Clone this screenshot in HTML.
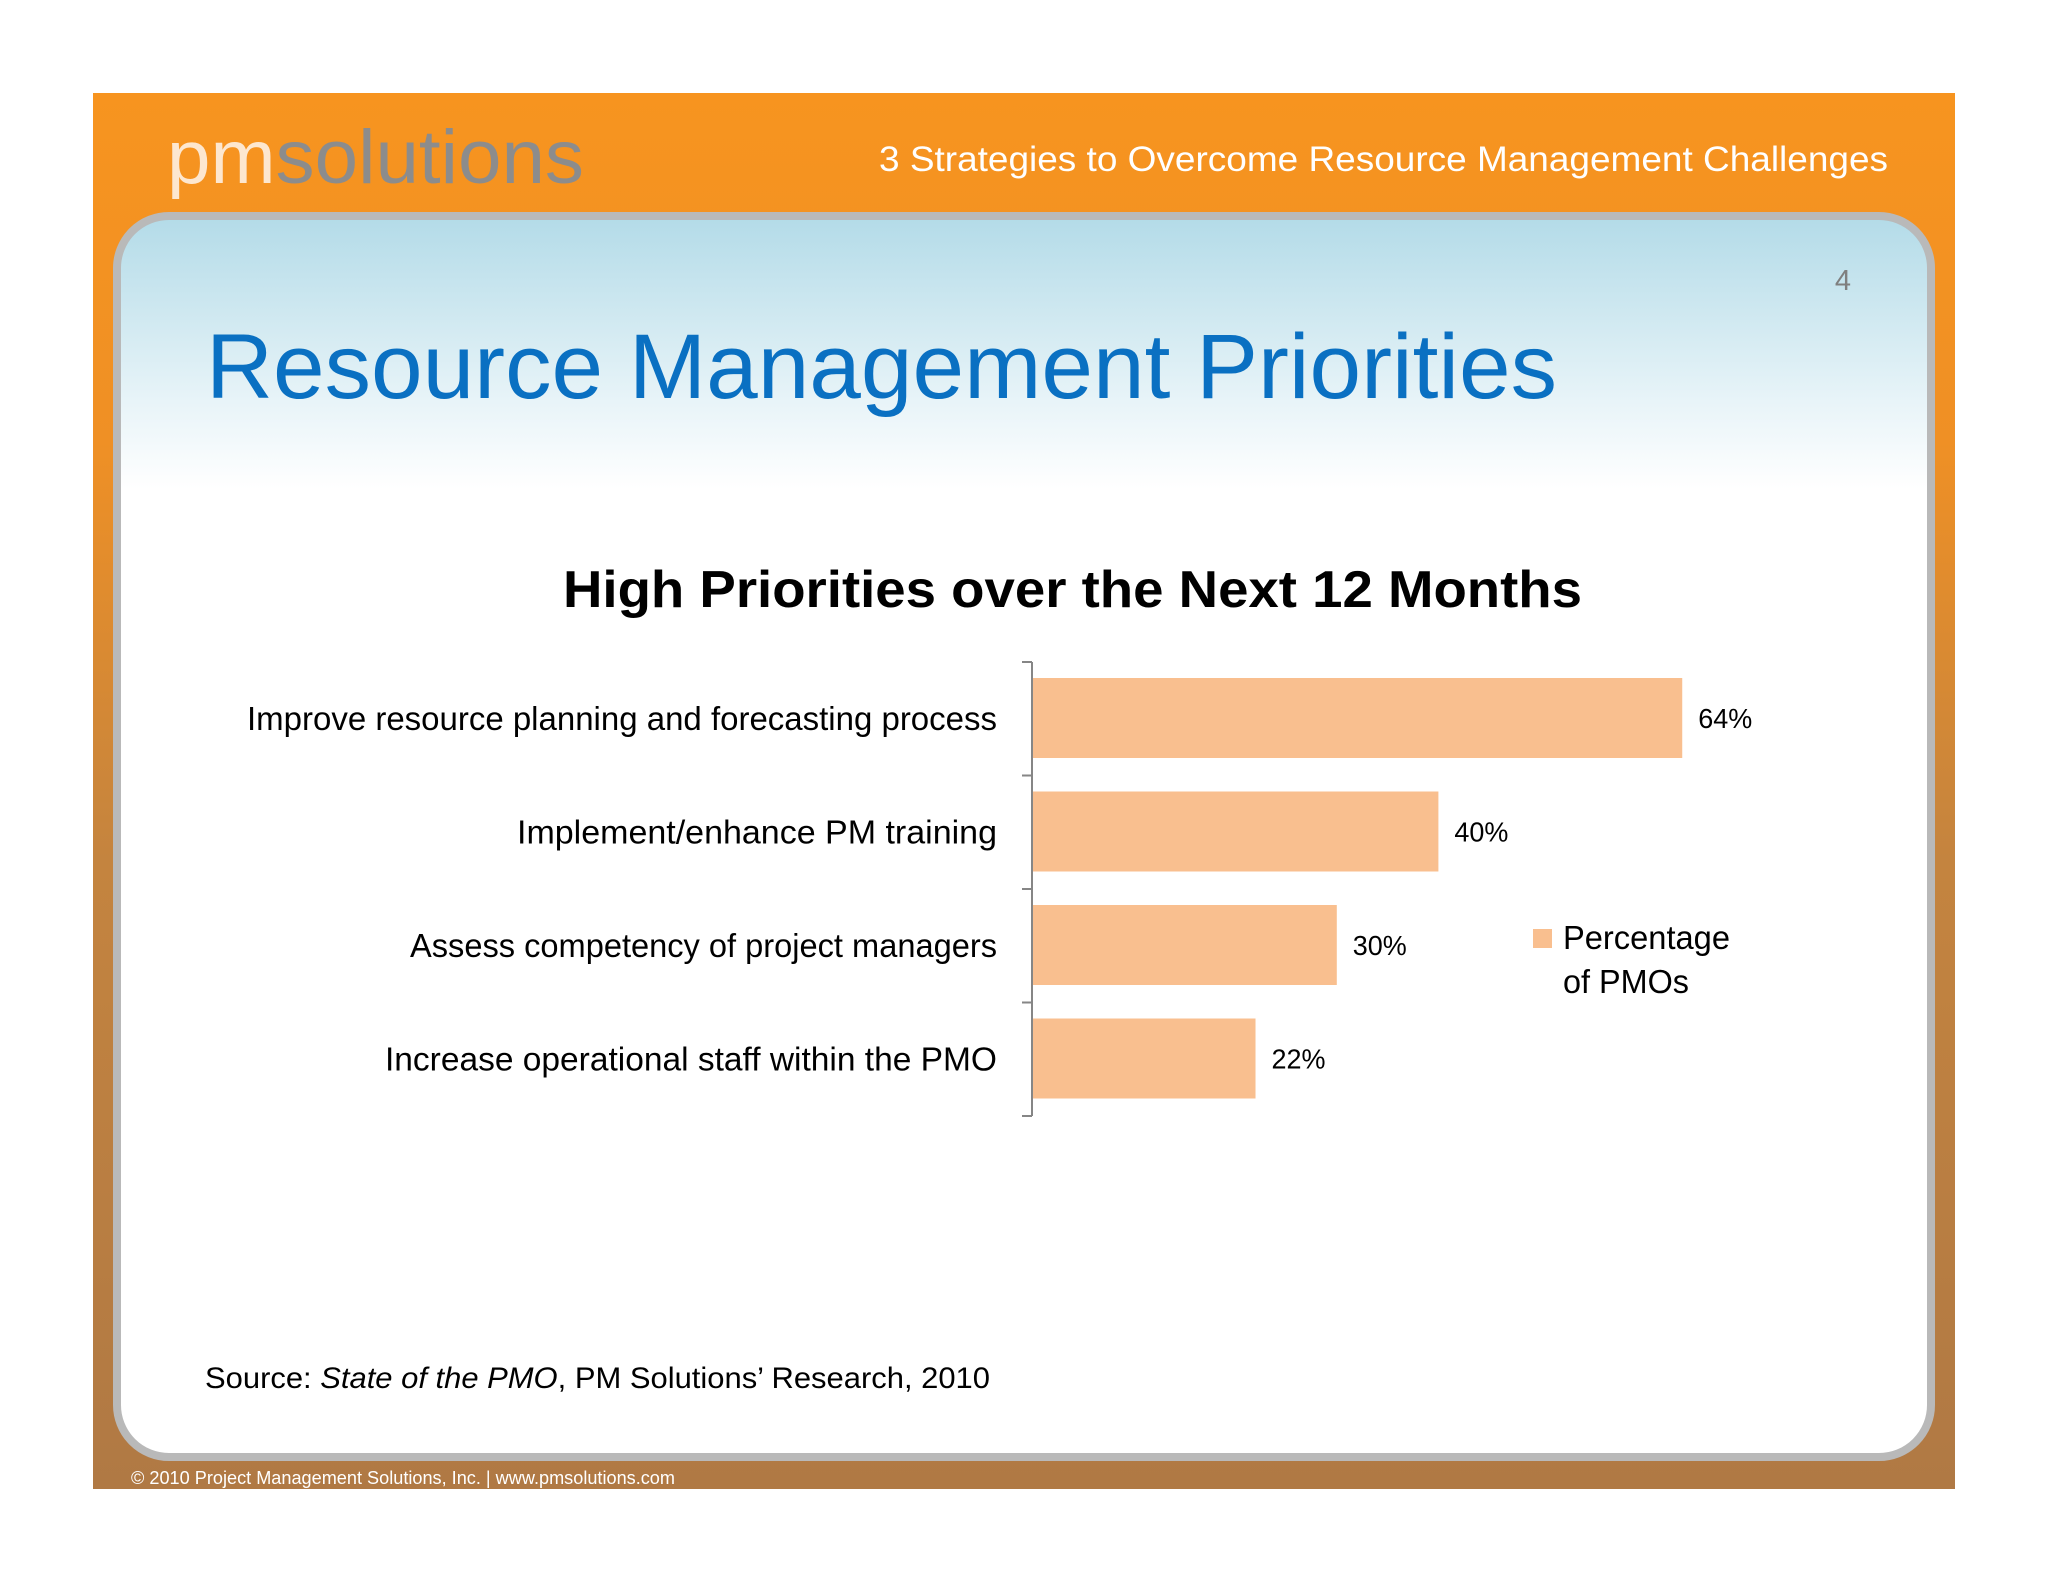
<!DOCTYPE html>
<html><head><meta charset="utf-8"><style>
html,body{margin:0;padding:0;background:#fff;}
svg{display:block;font-family:"Liberation Sans",sans-serif;}
</style></head><body>
<svg width="2048" height="1582" viewBox="0 0 2048 1582">
<defs>
<linearGradient id="og" x1="0" y1="0" x2="0" y2="1">
<stop offset="0" stop-color="#f7941f"/><stop offset="0.25" stop-color="#ef9025"/><stop offset="0.55" stop-color="#c4843f"/><stop offset="1" stop-color="#b07944"/>
</linearGradient>
<linearGradient id="pg" x1="0" y1="0" x2="0" y2="1">
<stop offset="0" stop-color="#b3dbe8"/><stop offset="0.15" stop-color="#e8f4f8"/><stop offset="0.22" stop-color="#ffffff"/><stop offset="1" stop-color="#ffffff"/>
</linearGradient>
</defs>
<rect x="93" y="93" width="1862" height="1396" fill="url(#og)"/>
<text x="167" y="183" font-size="76" textLength="417" lengthAdjust="spacingAndGlyphs"><tspan fill="#fde7cf">pm</tspan><tspan fill="#8c8c8c">solutions</tspan></text>
<text x="1888" y="171" text-anchor="end" font-size="35" fill="#ffffff" textLength="1009" lengthAdjust="spacingAndGlyphs">3 Strategies to Overcome Resource Management Challenges</text>
<rect x="117" y="216" width="1814" height="1241" rx="52" fill="url(#pg)" stroke="#b9b9b9" stroke-width="8"/>
<text x="1843" y="290" font-size="29" fill="#7f7f7f" text-anchor="middle">4</text>
<text x="206" y="398" font-size="92" fill="#0a70c2" textLength="1351" lengthAdjust="spacingAndGlyphs">Resource Management Priorities</text>
<text x="563" y="607" font-size="52" font-weight="bold" fill="#000" textLength="1019" lengthAdjust="spacingAndGlyphs">High Priorities over the Next 12 Months</text>
<g id="chart"></g>
<rect x="1533" y="929" width="19" height="19" fill="#f9bf8f"/>
<text font-size="33" fill="#000"><tspan x="1563" y="949" textLength="167" lengthAdjust="spacingAndGlyphs">Percentage</tspan><tspan x="1563" y="993" textLength="126" lengthAdjust="spacingAndGlyphs">of PMOs</tspan></text>
<text x="205" y="1388" font-size="30" fill="#000" textLength="785" lengthAdjust="spacingAndGlyphs">Source: <tspan font-style="italic">State of the PMO</tspan>, PM Solutions’ Research, 2010</text>
<text x="131" y="1484" font-size="18" fill="#fff" textLength="544" lengthAdjust="spacingAndGlyphs">© 2010 Project Management Solutions, Inc. | www.pmsolutions.com</text>
</svg>
<script>
const categories = ["Improve resource planning and forecasting process","Implement/enhance PM training","Assess competency of project managers","Increase operational staff within the PMO"];
const values = [64, 40, 30, 22];
const valueLabels = ["64%","40%","30%","22%"];
const labelWidths = [750, 480, 587, 612];
const NS = "http://www.w3.org/2000/svg";
const g = document.getElementById('chart');
const x0 = 1032, pxPer = 10.16, top0 = 662, band = 113.5;
const xs = v => x0 + v * pxPer;
const yb = i => top0 + i * band;
function mk(t, a){const e=document.createElementNS(NS,t);for(const k in a)e.setAttribute(k,a[k]);g.appendChild(e);return e;}
const axis = mk('line',{x1:x0,y1:top0,x2:x0,y2:top0+band*categories.length,stroke:'#868686','stroke-width':2});


for(let i=0;i<=categories.length;i++){
  const t = mk('line',{x1:x0-10,y1:yb(i),x2:x0,y2:yb(i),stroke:'#868686','stroke-width':2});
  
  
}
categories.forEach((c,i)=>{
  const r = mk('rect',{x:x0+1,y:yb(i)+16,width:xs(values[i])-x0-1,height:80,fill:'#f9bf8f'});
  
  
  const l = mk('text',{x:997,y:yb(i)+68,'text-anchor':'end','font-size':33,fill:'#000',textLength:labelWidths[i],lengthAdjust:'spacingAndGlyphs'});
  l.textContent = c;
  
  
  const v = mk('text',{x:xs(values[i])+16,y:yb(i)+66,'font-size':28,fill:'#000',textLength:54,lengthAdjust:'spacingAndGlyphs'});
  v.textContent = valueLabels[i];
  
  
});
</script>
</body></html>
